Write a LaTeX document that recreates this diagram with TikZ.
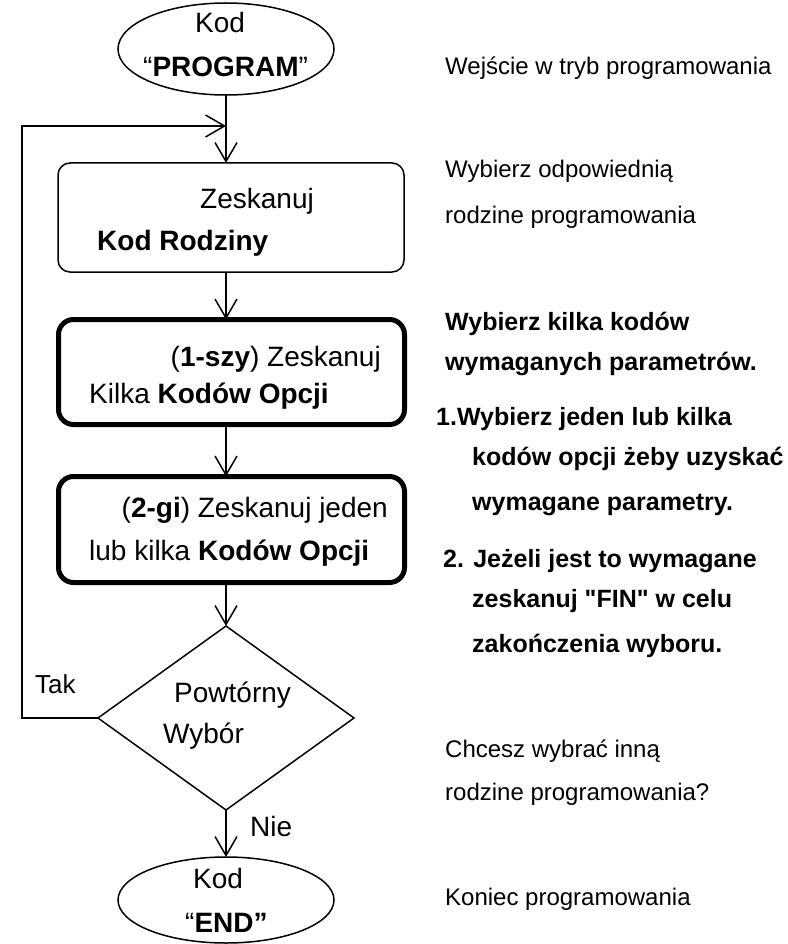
\documentclass[tikz,border=0pt]{standalone}
\usepackage{fontspec}
\setmainfont{Liberation Sans}
\usetikzlibrary{shapes.geometric,arrows.meta}
\tikzset{
  krok/.style={draw,rounded corners=12pt,line width=1.5pt,minimum width=346pt,minimum height=109pt,inner sep=0pt,outer sep=0pt},
  krokgruby/.style={krok,line width=5pt,rounded corners=15pt,minimum height=105pt},
  kod/.style={draw,ellipse,line width=1.5pt,minimum width=216pt,inner sep=0pt,outer sep=0pt},
  pytanie/.style={draw,diamond,line width=1.5pt,minimum width=256pt,minimum height=184pt,inner sep=0pt,outer sep=0pt},
  strz/.style={line width=1.5pt,-{Straight Barb[length=19pt,width=22pt]}},
  tekst/.style={font=\fontsize{28}{34}\selectfont,inner sep=0pt,anchor=base west},
  opis/.style={font=\fontsize{24}{29}\selectfont,inner sep=0pt,anchor=base west},
  opisb/.style={font=\fontsize{25}{30}\selectfont\bfseries,inner sep=0pt,anchor=base west}
}
\begin{document}
\begin{tikzpicture}[x=1pt,y=-1pt]
\useasboundingbox (0,0) rectangle (787,944);
\node[kod,minimum height=92pt] (prog) at (226,49) {};
\node[krok] (rodz) at (231,217.5) {};
\node[krokgruby] (opcje1) at (231.5,372) {};
\node[krokgruby,minimum height=106pt] (opcje2) at (231.5,529.5) {};
\node[pytanie] (pw) at (226,718) {};
\node[kod,minimum height=86pt] (koniec) at (226,900) {};
\coordinate (petla) at (22,126);
\coordinate (wej) at (226,126);
% strzalki
\draw[strz] (prog.south) -- (rodz.north -| prog.south);
\draw[strz] (rodz.south -| prog.south) -- (opcje1.north -| prog.south);
\draw[strz] (opcje1.south -| prog.south) -- (opcje2.north -| prog.south);
\draw[strz] (opcje2.south -| pw.north) -- (pw.north);
\draw[strz] (pw.south) -- (koniec.north);
\draw[strz] (pw.west) -- (pw.west -| petla) -- (petla) -- (wej);
% teksty w blokach
\node[tekst] (t1) at (195,33) {Kod};
\node[tekst] (t2) at (143,77) {“\textbf{PROGRAM}”};
\node[tekst] (t3) at (200,208) {Zeskanuj};
\node[tekst] (t4) at (97,250) {\textbf{Kod Rodziny}};
\node[tekst,anchor=base east] (t5) at (381,366) {(\textbf{1-szy}) Zeskanuj};
\node[tekst] (t6) at (89,403) {Kilka \textbf{Kodów Opcji}};
\node[tekst,anchor=base east] (t7) at (388,517) {(\textbf{2-gi}) Zeskanuj jeden};
\node[tekst] (t8) at (89,560) {lub kilka \textbf{Kodów Opcji}};
\node[tekst] (t9) at (174,702) {Powtórny};
\node[tekst] (t10) at (163,743) {Wybór};
\node[tekst] (t11) at (193,888) {Kod};
\node[tekst] (t12) at (185,932) {“\textbf{END”}};
\node[tekst,font=\fontsize{26}{31}\selectfont] (tak) at (35,693) {Tak};
\node[tekst] (nie) at (250,836) {Nie};
% opisy
\foreach \yb/\txt [count=\i] in {75/Wejście w tryb programowania,178/Wybierz odpowiednią,223/rodzine programowania,757/Chcesz wybrać inną,800/rodzine programowania?,905/Koniec programowania}
  {\node[opis] (opis\i) at (445,\yb) {\txt};}
\foreach \xb/\yb/\txt [count=\i] in {445/330/Wybierz kilka kodów,445/370/wymaganych parametrów.,436/425/1.Wybierz jeden lub kilka,472/465/kodów opcji żeby uzyskać,472/510/wymagane parametry.,443/567/2. Jeżeli jest to wymagane,472/607/zeskanuj \textquotedbl FIN\textquotedbl{} w celu,472/652/zakończenia wyboru.}
  {\node[opisb] (uwaga\i) at (\xb,\yb) {\txt};}
\end{tikzpicture}
\end{document}
